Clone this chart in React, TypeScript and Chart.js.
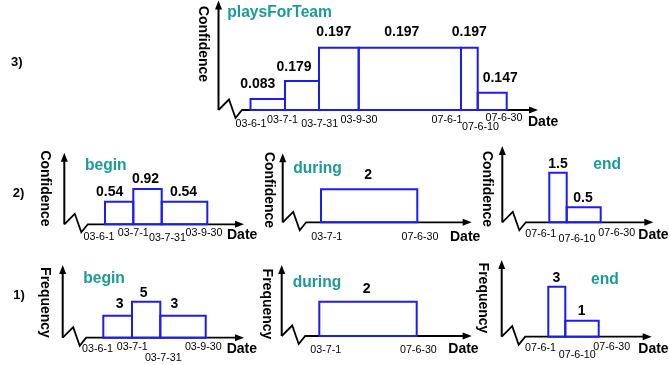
import React, { useEffect, useRef } from "react";
import { Chart, registerables } from "chart.js";

Chart.register(...registerables);

const W = 669;
const H = 365;

// ---------- 3) playsForTeam (confidence) ----------
const teamDates = ["03-6-1", "03-7-1", "03-7-31", "03-9-30", "07-6-1", "07-6-10", "07-6-30"];
const teamDatePos = [0, 34.5, 68.5, 108.2, 210.5, 227.2, 256.2];
const teamHeights = [11, 29, 62.3, 62.3, 62.3, 17.3];
const teamLabels = ["0.083", "0.179", "0.197", "0.197", "0.197", "0.147"];

// ---------- 2) confidence: begin / during / end ----------
const confBeginDates = ["03-6-1", "03-7-1", "03-7-31", "03-9-30"];
const confBeginPos = [0, 28.3, 56.7, 102.3];
const confBeginHeights = [22.6, 35.3, 22.6];
const confBeginLabels = ["0.54", "0.92", "0.54"];

const confDuringDates = ["03-7-1", "07-6-30"];
const confDuringPos = [0, 96.3];
const confDuringHeights = [33];
const confDuringLabels = ["2"];

const confEndDates = ["07-6-1", "07-6-10", "07-6-30"];
const confEndPos = [0, 17.4, 51.4];
const confEndHeights = [49.6, 15];
const confEndLabels = ["1.5", "0.5"];

// ---------- 1) frequency: begin / during / end ----------
const freqBeginDates = ["03-6-1", "03-7-1", "03-7-31", "03-9-30"];
const freqBeginPos = [0, 28.7, 57, 102.4];
const freqBeginHeights = [22, 36, 22];
const freqBeginLabels = ["3", "5", "3"];

const freqDuringDates = ["03-7-1", "07-6-30"];
const freqDuringPos = [0, 97.4];
const freqDuringHeights = [34.3];
const freqDuringLabels = ["2"];

const freqEndDates = ["07-6-1", "07-6-10", "07-6-30"];
const freqEndPos = [0, 17, 50.4];
const freqEndHeights = [50, 16];
const freqEndLabels = ["3", "1"];

// ---------- styles ----------
const BLUE = "#1c1cf5";
const TEAL = "#1b9b97";
const FONT = "'Liberation Sans', Arial, Helvetica, sans-serif";

type Layout = {
  x0: number;
  baseY: number;
  axisX: number;
  axisTop: number;
  arrowX: number;
  title: [number, number];
  yTitle: [number, number];
  date: [number, number];
  row?: [number, number];
  valDx: number[];
  valDy: number[];
  tickDx: number[];
  tickDy: number[];
};

type Panel = {
  dates: string[];
  pos: number[];
  heights: number[];
  labels: string[];
  title: string;
  yTitle: string;
  rowLabel?: string;
  layout: Layout;
};

const panels: Panel[] = [
  {
    dates: teamDates, pos: teamDatePos, heights: teamHeights, labels: teamLabels,
    title: "playsForTeam", yTitle: "Confidence", rowLabel: "3)",
    layout: {
      x0: 250.5, baseY: 110, axisX: 218.5, axisTop: 0.5, arrowX: 538,
      title: [227.3, 13], yTitle: [203.3, 44], date: [528, 121.7], row: [11, 62],
      valDx: [-10, -8, -5, -8, 0, 8], valDy: [-15, -14, -15.7, -15.7, -15.7, -14.7],
      tickDx: [0.5, -2.5, 0.7, 0.3, -14, 2.8, -2.7], tickDy: [14, 10, 14, 10, 10, 17.3, 8.3],
    },
  },
  {
    dates: confBeginDates, pos: confBeginPos, heights: confBeginHeights, labels: confBeginLabels,
    title: "begin", yTitle: "Confidence", rowLabel: "2)",
    layout: {
      x0: 105, baseY: 224.3, axisX: 64.3, axisTop: 152.7, arrowX: 244,
      title: [85, 165.5], yTitle: [45, 188.5], date: [227, 235.5], row: [12.7, 193.3],
      valDx: [-9.5, -2, -1], valDy: [-10, -9.7, -10],
      tickDx: [-6, 0, 5.8, -3.3], tickDy: [13, 9, 14, 9],
    },
  },
  {
    dates: confDuringDates, pos: confDuringPos, heights: confDuringHeights, labels: confDuringLabels,
    title: "during", yTitle: "Confidence",
    layout: {
      x0: 321, baseY: 222.3, axisX: 282.7, axisTop: 153.3, arrowX: 471.7,
      title: [293.3, 168.8], yTitle: [269.3, 190], date: [450, 236.7],
      valDx: [-1], valDy: [-14.3],
      tickDx: [5.7, 2.7], tickDy: [14.4, 14.4],
    },
  },
  {
    dates: confEndDates, pos: confEndPos, heights: confEndHeights, labels: confEndLabels,
    title: "end", yTitle: "Confidence",
    layout: {
      x0: 549.3, baseY: 222.3, axisX: 502.3, axisTop: 146, arrowX: 653.3,
      title: [593.3, 165], yTitle: [487.3, 189], date: [638.3, 235],
      valDx: [0, -0.7], valDy: [-8.7, -9],
      tickDx: [-8.5, 10.3, 16], tickDy: [12, 17, 11],
    },
  },
  {
    dates: freqBeginDates, pos: freqBeginPos, heights: freqBeginHeights, labels: freqBeginLabels,
    title: "begin", yTitle: "Frequency", rowLabel: "1)",
    layout: {
      x0: 103.3, baseY: 337.7, axisX: 62.7, axisTop: 265, arrowX: 244,
      title: [83.3, 278.8], yTitle: [45, 302.5], date: [226.7, 349.3], row: [13.3, 295],
      valDx: [2, -2.5, -8.7], valDy: [-11.4, -8.4, -11.4],
      tickDx: [-5.8, 0.3, 3, -2.4], tickDy: [11.6, 9, 20.6, 9],
    },
  },
  {
    dates: freqDuringDates, pos: freqDuringPos, heights: freqDuringHeights, labels: freqDuringLabels,
    title: "during", yTitle: "Frequency",
    layout: {
      x0: 319.3, baseY: 336, axisX: 281.7, axisTop: 265, arrowX: 471.7,
      title: [292.7, 282.8], yTitle: [266.7, 304], date: [448.3, 349.3],
      valDx: [-1.3], valDy: [-12.7],
      tickDx: [6.4, 1.7], tickDy: [14, 14],
    },
  },
  {
    dates: freqEndDates, pos: freqEndPos, heights: freqEndHeights, labels: freqEndLabels,
    title: "end", yTitle: "Frequency",
    layout: {
      x0: 548.3, baseY: 336.7, axisX: 501.7, axisTop: 260, arrowX: 651.7,
      title: [591, 279.3], yTitle: [483.3, 298], date: [638.3, 349.3],
      valDx: [-0.5, -0.3], valDy: [-8.4, -9.7],
      tickDx: [-7.8, 11.9, 13], tickDy: [11.6, 18.3, 10],
    },
  },
];

// zig-zag break of the axes (relative to the origin)
const ZIG: [number, number][] = [[10.5, -10.5], [17, 8], [23.5, 0]];

function buildScales() {
  const scales: Record<string, any> = {};
  panels.forEach((p, i) => {
    const L = p.layout;
    scales["x" + i] = {
      type: "linear", display: false, bounds: "data",
      min: -L.x0, max: W - L.x0,
    };
    scales["y" + i] = {
      type: "linear", display: false, bounds: "data",
      min: L.baseY - H, max: L.baseY,
    };
  });
  return scales;
}

function buildDatasets() {
  const ds: any[] = [];
  panels.forEach((p, i) => {
    p.heights.forEach((h, j) => {
      const a = p.pos[j];
      const b = p.pos[j + 1];
      ds.push({
        label: p.title + " " + p.labels[j],
        xAxisID: "x" + i,
        yAxisID: "y" + i,
        showLine: true,
        data: [
          { x: a, y: 0 }, { x: a, y: h }, { x: b, y: h }, { x: b, y: 0 }, { x: a, y: 0 },
        ],
        borderColor: BLUE,
        borderWidth: 2,
        borderJoinStyle: "miter",
        borderCapStyle: "square",
        pointRadius: 0,
        pointHoverRadius: 0,
        fill: false,
        tension: 0,
        clip: false,
      });
    });
  });
  return ds;
}

const decorPlugin = {
  id: "panelDecor",
  beforeDatasetsDraw(chart: any) {
    const ctx: CanvasRenderingContext2D = chart.ctx;
    ctx.save();
    panels.forEach((p) => {
      const L = p.layout;
      ctx.strokeStyle = "#000";
      ctx.fillStyle = "#000";
      ctx.lineWidth = 2;
      ctx.lineJoin = "miter";
      // y axis
      ctx.beginPath();
      ctx.moveTo(L.axisX, L.baseY);
      ctx.lineTo(L.axisX, L.axisTop + 6);
      ctx.stroke();
      ctx.beginPath();
      ctx.moveTo(L.axisX, L.axisTop);
      ctx.lineTo(L.axisX - 3.5, L.axisTop + 9);
      ctx.lineTo(L.axisX + 3.5, L.axisTop + 9);
      ctx.closePath();
      ctx.fill();
      // zig-zag + x axis
      ctx.lineWidth = 1.8;
      ctx.beginPath();
      ctx.moveTo(L.axisX, L.baseY);
      ZIG.forEach(([dx, dy]) => ctx.lineTo(L.axisX + dx, L.baseY + dy));
      ctx.lineTo(L.arrowX - 6, L.baseY);
      ctx.stroke();
      ctx.beginPath();
      ctx.moveTo(L.arrowX, L.baseY);
      ctx.lineTo(L.arrowX - 9, L.baseY - 3.5);
      ctx.lineTo(L.arrowX - 9, L.baseY + 3.5);
      ctx.closePath();
      ctx.fill();
    });
    ctx.restore();
  },
  afterDatasetsDraw(chart: any) {
    const ctx: CanvasRenderingContext2D = chart.ctx;
    ctx.save();
    panels.forEach((p, i) => {
      const L = p.layout;
      const xs = chart.scales["x" + i];
      const ys = chart.scales["y" + i];
      // title
      ctx.fillStyle = TEAL;
      ctx.font = `bold 15.6px ${FONT}`;
      ctx.textAlign = "left";
      ctx.textBaseline = "middle";
      ctx.fillText(p.title, L.title[0], L.title[1]);
      // y-axis title (rotated)
      ctx.fillStyle = "#000";
      ctx.save();
      ctx.translate(L.yTitle[0], L.yTitle[1]);
      ctx.rotate(Math.PI / 2);
      ctx.font = `bold 14px ${FONT}`;
      ctx.textAlign = "center";
      ctx.textBaseline = "middle";
      ctx.fillText(p.yTitle, 0, 0);
      ctx.restore();
      // value labels
      ctx.font = `bold 14px ${FONT}`;
      ctx.textAlign = "center";
      ctx.textBaseline = "middle";
      p.heights.forEach((h, j) => {
        const cx = (xs.getPixelForValue(p.pos[j]) + xs.getPixelForValue(p.pos[j + 1])) / 2;
        const top = ys.getPixelForValue(h);
        ctx.fillText(p.labels[j], cx + L.valDx[j], top + L.valDy[j]);
      });
      // date tick labels
      ctx.font = `10.7px ${FONT}`;
      p.dates.forEach((d, j) => {
        const px = xs.getPixelForValue(p.pos[j]);
        const py = ys.getPixelForValue(0);
        ctx.fillText(d, px + L.tickDx[j], py + L.tickDy[j]);
      });
      // axis title "Date"
      ctx.font = `bold 14px ${FONT}`;
      ctx.textAlign = "left";
      ctx.fillText("Date", L.date[0], L.date[1]);
      // row label
      if (p.rowLabel && L.row) {
        ctx.font = `bold 13px ${FONT}`;
        ctx.fillText(p.rowLabel, L.row[0], L.row[1]);
      }
    });
    ctx.restore();
  },
};

export default function App() {
  const ref = useRef<HTMLCanvasElement>(null);
  useEffect(() => {
    if (!ref.current) return;
    const chart = new Chart(ref.current, {
      type: "scatter",
      data: { datasets: buildDatasets() },
      options: {
        responsive: false,
        maintainAspectRatio: false,
        devicePixelRatio: 1,
        animation: false,
        events: [],
        layout: { padding: 0, autoPadding: false },
        plugins: {
          legend: { display: false },
          tooltip: { enabled: false },
          title: { display: false },
        },
        scales: buildScales(),
      } as any,
      plugins: [decorPlugin],
    });
    return () => chart.destroy();
  }, []);
  return (
    <div style={{ position: "absolute", left: 0, top: 0, width: W, height: H, background: "#fff" }}>
      <canvas ref={ref} width={W} height={H} style={{ display: "block", width: W, height: H }} />
    </div>
  );
}
